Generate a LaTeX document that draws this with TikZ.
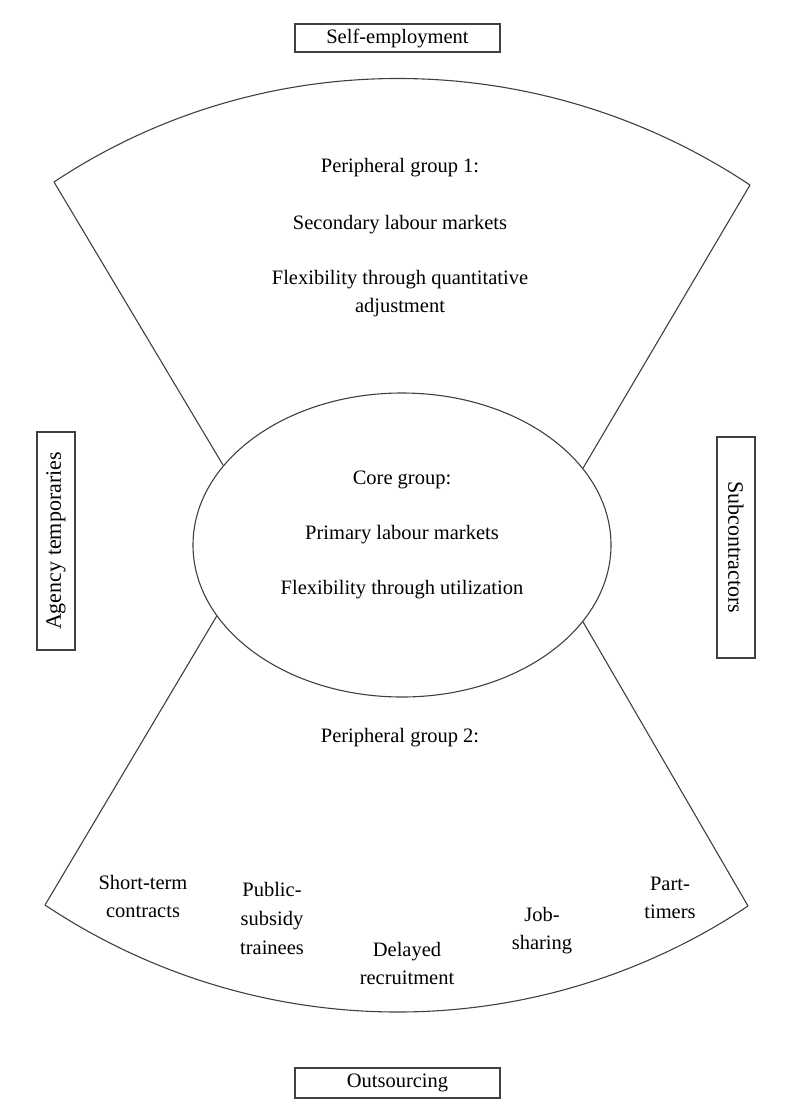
\documentclass[tikz,border=0pt]{standalone}
\usepackage{fontspec}
\setmainfont{Liberation Serif}
\usetikzlibrary{shapes.geometric}
\newcommand\fsmain{\fontsize{20.5}{28}\selectfont}
\newcommand\fsrot{\fontsize{22}{28}\selectfont}
\tikzset{
  ln/.style={draw=black!75, line width=1.1pt},
  lbl/.style={align=center, inner sep=0pt, font=\fsmain},
  boxnode/.style={draw=black!75, line width=1.2pt, inner sep=0pt, font=\fsmain},
  rotbox/.style={draw=black!75, line width=1.2pt, inner sep=0pt, font=\fsrot,
    minimum height=38pt}
}
\begin{document}
\begin{tikzpicture}[x=1pt,y=-1pt]
\useasboundingbox (0,0) rectangle (800,1106);
% core ellipse
\node[ellipse, ln, minimum width=418pt, minimum height=304pt, inner sep=0pt] (core) at (402,545) {};
% corners
\coordinate (TL) at (54,182);
\coordinate (TR) at (750,185);
\coordinate (BL) at (45,905);
\coordinate (BR) at (748,906);
% peripheral group 1 fan
\draw[ln, line join=round] (core.156.9) -- (TL) .. controls (264.5,42) and (539.5,45) .. (TR) -- (core.23.3);
% peripheral group 2 fan
\draw[ln, line join=round] (core.201.3) -- (BL) .. controls (257.8,1047) and (535.2,1048) .. (BR) -- (core.337.8);
% texts
\node[lbl] (p1) at (400,168) {Peripheral group 1:};
\node[lbl] (p1a) at (400,225) {Secondary labour markets};
\node[lbl] (p1b) at (400,294) {Flexibility through quantitative\\adjustment};
\node[lbl] (c1) at (402,480) {Core group:};
\node[lbl] (c2) at (402,535) {Primary labour markets};
\node[lbl] (c3) at (402,590) {Flexibility through utilization};
\node[lbl] (p2) at (400,738) {Peripheral group 2:};
\node[lbl] (st) at (143,896) {Short-term\\contracts};
\node[lbl, font=\fontsize{20.5}{29}\selectfont] (ps) at (272,918) {Public-\\subsidy\\trainees};
\node[lbl] (dr) at (407,963) {Delayed\\recruitment};
\node[lbl] (js) at (542,931) {Job-\\sharing};
\node[lbl] (pt) at (670,898) {Part-\\timers};
% boxes
\node[boxnode, minimum width=205pt, minimum height=28pt] (se) at (397.5,38) {Self-employment};
\node[boxnode, minimum width=205pt, minimum height=30pt] (out) at (397.5,1083) {Outsourcing};
\node[rotbox, rotate=90, minimum width=218pt] (ag) at (56,541) {Agency temporaries};
\node[rotbox, rotate=-90, minimum width=221pt] (sub) at (736,547.5) {Subcontractors};
\end{tikzpicture}
\end{document}
